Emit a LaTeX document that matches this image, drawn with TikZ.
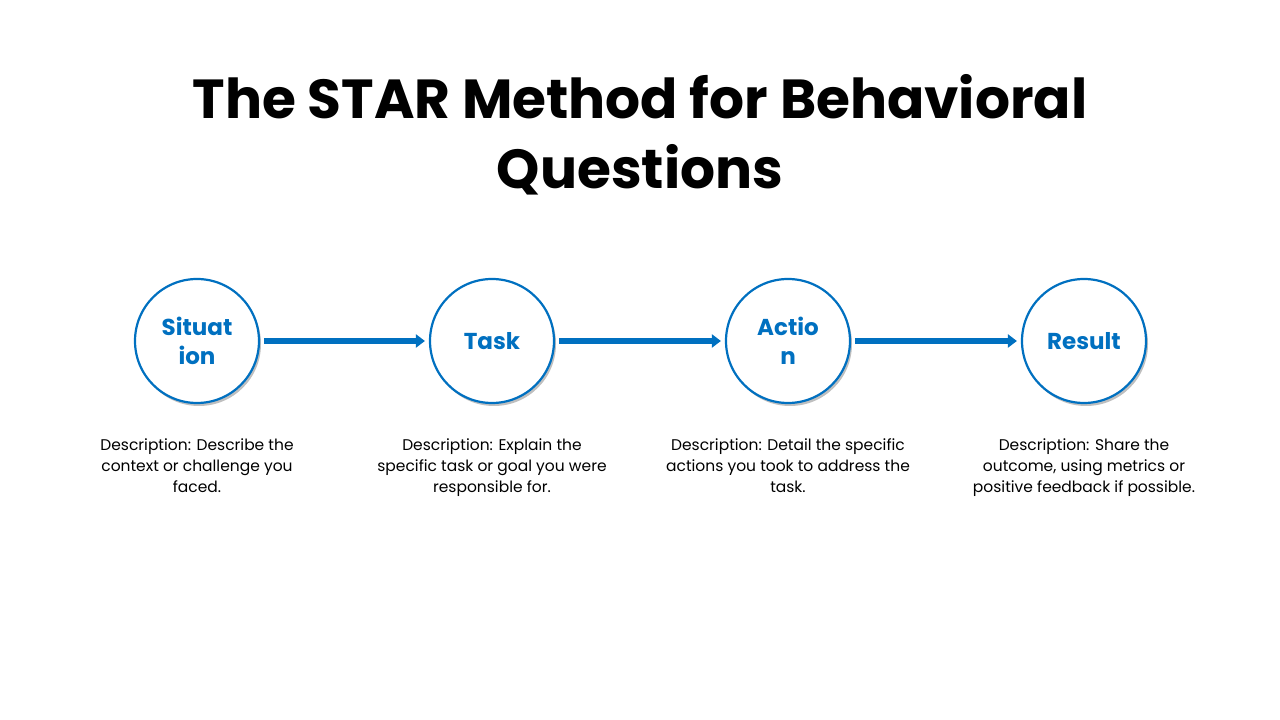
\documentclass[tikz,border=0pt]{standalone}
\usepackage{fontspec}
\setmainfont{Poppins}
\usetikzlibrary{shadows,arrows.meta}
\definecolor{sblue}{HTML}{0070C0}
\tikzset{
  stepcirc/.style={circle,draw=sblue,line width=2.2pt,fill=white,minimum size=124pt,inner sep=0pt,
    text=sblue,font=\fontsize{23}{29}\selectfont\bfseries,align=center,
    drop shadow={opacity=0.25,shadow xshift=2pt,shadow yshift=-3pt,fill=black}},
  desc/.style={font=\fontsize{15.5}{21}\selectfont,align=center,anchor=north},
  flow/.style={draw=sblue,line width=5.5pt,-{Triangle[length=9pt,width=13pt]}}
}
\begin{document}
\begin{tikzpicture}[x=1pt,y=1pt]
\useasboundingbox (0,0) rectangle (1280,720);
\node[font=\fontsize{55}{70}\selectfont\bfseries,align=center] (title) at (640,585) {The STAR Method for Behavioral\\Questions};
\node[stepcirc] (s) at (197,379) {Situat\\ion};
\node[stepcirc] (t) at (492,379) {Task};
\node[stepcirc] (a) at (788,379) {Actio\\n};
\node[stepcirc] (r) at (1084,379) {Result};
\draw[flow] ([xshift=4pt]s.east) -- ([xshift=-4pt]t.west);
\draw[flow] ([xshift=4pt]t.east) -- ([xshift=-4pt]a.west);
\draw[flow] ([xshift=4pt]a.east) -- ([xshift=-4pt]r.west);
\node[desc] (ds) at (197,285) {Description: Describe the\\context or challenge you\\faced.};
\node[desc] (dt) at (492,285) {Description: Explain the\\specific task or goal you were\\responsible for.};
\node[desc] (da) at (788,285) {Description: Detail the specific\\actions you took to address the\\task.};
\node[desc] (dr) at (1084,285) {Description: Share the\\outcome, using metrics or\\positive feedback if possible.};
\end{tikzpicture}
\end{document}
